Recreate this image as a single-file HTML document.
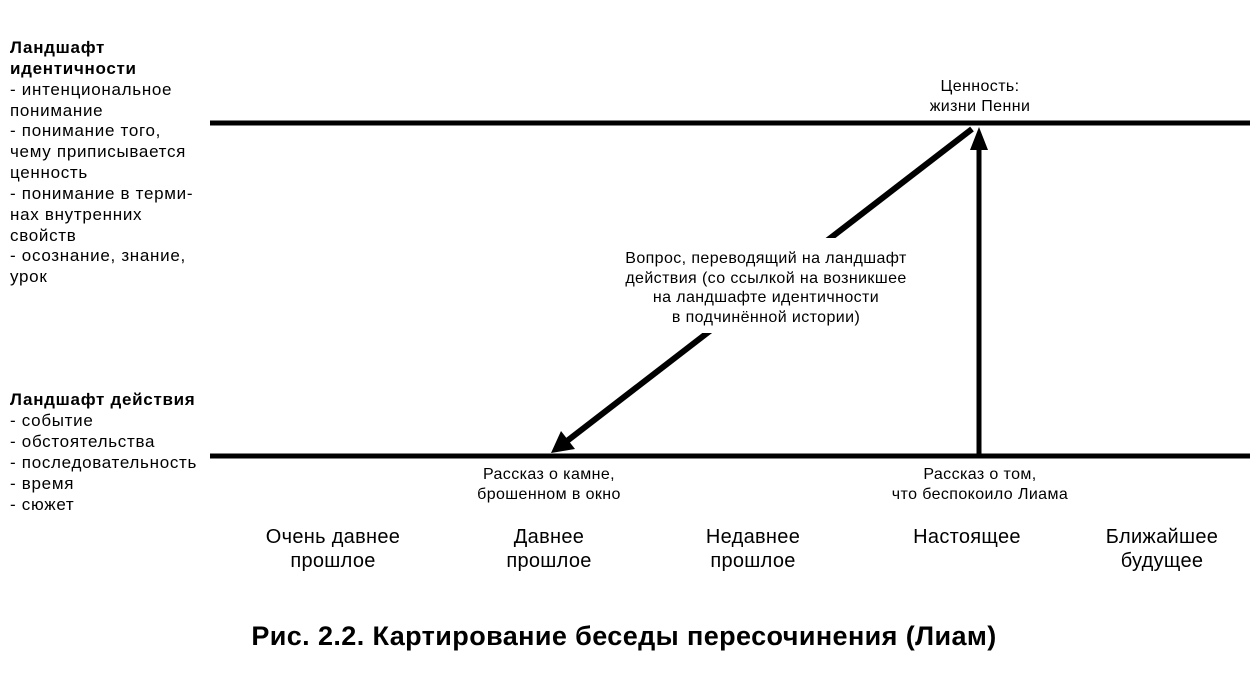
<!DOCTYPE html>
<html><head><meta charset="utf-8"><style>
html,body{margin:0;padding:0;background:#fff;}
svg{display:block;font-family:"Liberation Sans",Arial,sans-serif;}
</style></head><body>
<svg width="1250" height="688" viewBox="0 0 1250 688" xmlns="http://www.w3.org/2000/svg">
<g font-size="17" letter-spacing="0.7" fill="#000">
<text x="10" y="53" font-weight="bold">Ландшафт</text>
<text x="10" y="74" font-weight="bold">идентичности</text>
<text x="10" y="95">- интенциональное</text>
<text x="10" y="116">понимание</text>
<text x="10" y="136">- понимание того,</text>
<text x="10" y="157">чему приписывается</text>
<text x="10" y="178">ценность</text>
<text x="10" y="199">- понимание в терми-</text>
<text x="10" y="220">нах внутренних</text>
<text x="10" y="241">свойств</text>
<text x="10" y="261">- осознание, знание,</text>
<text x="10" y="282">урок</text>
<text x="10" y="405" font-weight="bold">Ландшафт действия</text>
<text x="10" y="426">- событие</text>
<text x="10" y="447">- обстоятельства</text>
<text x="10" y="468">- последовательность</text>
<text x="10" y="489">- время</text>
<text x="10" y="510">- сюжет</text>
</g>
<line x1="210" y1="123" x2="1250" y2="123" stroke="#000" stroke-width="5"/>
<line x1="210" y1="456" x2="1250" y2="456" stroke="#000" stroke-width="5"/>
<line x1="979" y1="456" x2="979" y2="145" stroke="#000" stroke-width="5"/>
<polygon points="979,127 970,150 988,150" fill="#000"/>
<line x1="972" y1="129" x2="567" y2="441" stroke="#000" stroke-width="6"/>
<polygon points="551,453 561,431 575,449" fill="#000"/>
<rect x="600" y="238" width="330" height="95" fill="#fff"/>
<g font-size="16" letter-spacing="0.4" text-anchor="middle" fill="#000">
<text x="766" y="263">Вопрос, переводящий на ландшафт</text>
<text x="766" y="283">действия (со ссылкой на возникшее</text>
<text x="766" y="302">на ландшафте идентичности</text>
<text x="766" y="322">в подчинённой истории)</text>
<text x="980" y="91">Ценность:</text>
<text x="980" y="111">жизни Пенни</text>
<text x="549" y="479">Рассказ о камне,</text>
<text x="549" y="499">брошенном в окно</text>
<text x="980" y="479">Рассказ о том,</text>
<text x="980" y="499">что беспокоило Лиама</text>
</g>
<g font-size="20" letter-spacing="0.3" text-anchor="middle" fill="#000">
<text x="333" y="543">Очень давнее</text>
<text x="333" y="567">прошлое</text>
<text x="549" y="543">Давнее</text>
<text x="549" y="567">прошлое</text>
<text x="753" y="543">Недавнее</text>
<text x="753" y="567">прошлое</text>
<text x="967" y="543">Настоящее</text>
<text x="1162" y="543">Ближайшее</text>
<text x="1162" y="567">будущее</text>
</g>
<text x="624" y="645" font-size="27" letter-spacing="0.4" font-weight="bold" text-anchor="middle">Рис. 2.2. Картирование беседы пересочинения (Лиам)</text>
</svg>
</body></html>
